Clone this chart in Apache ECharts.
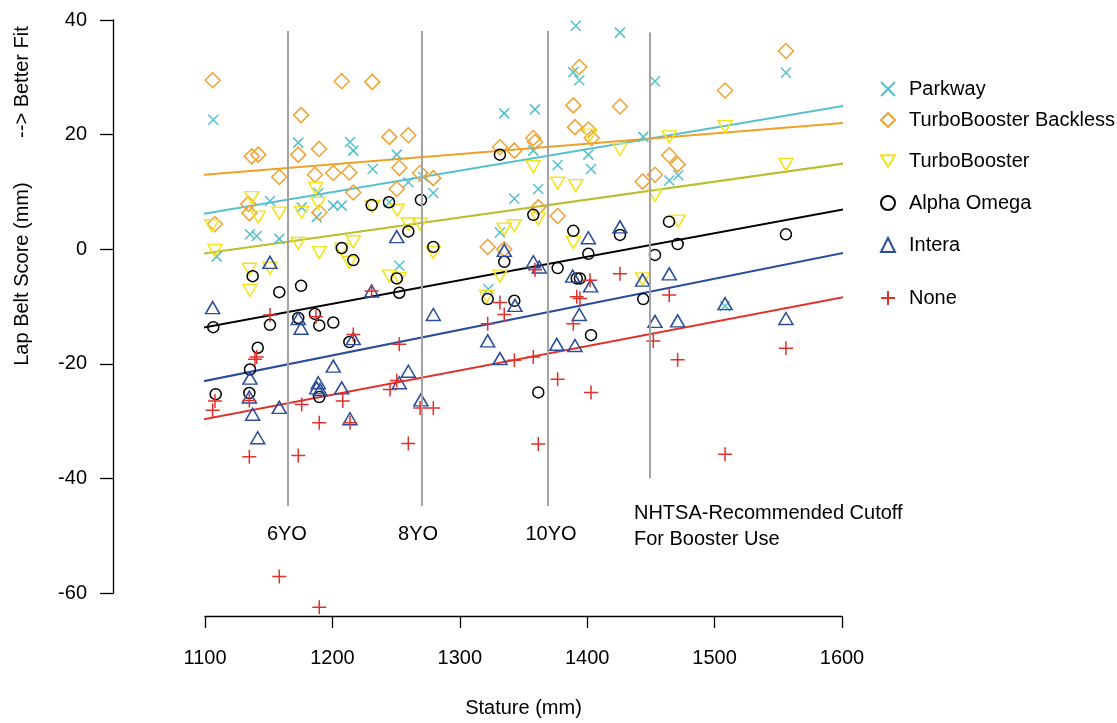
<!DOCTYPE html>
<html>
<head>
<meta charset="utf-8">
<title>Lap Belt Score vs Stature</title>
<script src="https://cdn.jsdelivr.net/npm/echarts@6/dist/echarts.min.js"></script>
<style>
    html, body { margin: 0; padding: 0; background: #fff; }
    #main { width: 1117px; height: 723px; }
</style>
</head>
<body>
<div id="main"></div>
<script type="text/javascript">
    // stature (mm), lap belt score (mm) per booster
    var parkway = [[1106.5,22.6],[1173.2,18.6],[1213.8,18.7],[1216.4,17.2],[1250.5,16.5],[1231.6,14.0],[1259.6,11.7],
        [1271.4,12.6],[1151.0,8.4],[1175.9,7.3],[1188.9,9.8],[1200.7,7.6],[1207.3,7.6],[1187.7,5.6],[1135.3,2.6],
        [1140.6,2.3],[1158.3,1.8],[1109.2,-1.3],[1244.7,8.2],[1252.5,-2.9],[1334.9,23.7],[1359.0,24.4],[1391.0,39.0],
        [1425.7,37.8],[1389.1,30.9],[1393.8,29.5],[1357.7,17.2],[1376.8,14.7],[1400.9,16.5],[1403.0,14.0],[1361.6,10.5],
        [1342.8,8.8],[1279.2,9.8],[1444.0,19.6],[1453.2,29.3],[1331.5,2.9],[1322.4,-7.0],[1556.0,30.8],[1464.4,12.0],
        [1471.5,12.9],[1508.2,-9.9]];
    var backless = [[1106.0,29.5],[1207.3,29.3],[1231.3,29.2],[1175.4,23.4],[1136.7,16.2],[1141.8,16.5],[1173.2,16.5],
        [1189.5,17.5],[1244.7,19.6],[1259.6,19.9],[1158.3,12.6],[1186.3,13.0],[1200.7,13.3],[1213.3,13.4],[1252.5,14.2],
        [1268.8,13.3],[1216.4,9.9],[1250.5,10.5],[1134.0,7.9],[1134.8,6.3],[1189.8,6.4],[1107.8,4.4],[1393.8,31.8],
        [1389.1,25.1],[1425.7,24.9],[1390.4,21.3],[1400.9,20.9],[1403.5,19.4],[1331.5,17.8],[1342.8,17.2],[1357.7,19.4],
        [1359.0,18.7],[1279.2,12.4],[1443.5,11.8],[1453.2,13.0],[1361.6,7.3],[1376.8,5.8],[1321.9,0.4],[1334.9,0.0],
        [1556.0,34.6],[1508.2,27.7],[1464.4,16.4],[1471.0,14.8]];
    var turbo = [[1136.7,9.0],[1186.9,10.6],[1188.9,8.0],[1158.3,6.3],[1175.9,6.4],[1141.8,5.6],[1231.6,7.4],
        [1250.9,6.8],[1259.6,4.4],[1268.8,4.4],[1105.3,4.1],[1107.8,-0.2],[1173.2,1.0],[1189.7,-0.6],[1207.3,0.0],
        [1216.4,1.3],[1213.3,-2.3],[1134.8,-3.5],[1151.0,-3.3],[1135.3,-7.2],[1244.7,-4.7],[1252.5,-5.1],[1357.7,14.4],
        [1376.8,11.5],[1391.0,11.1],[1425.7,17.4],[1402.2,19.9],[1453.2,9.4],[1279.2,-0.6],[1334.9,3.5],[1342.8,4.1],
        [1361.6,5.3],[1389.1,1.2],[1331.5,-4.7],[1321.1,-8.2],[1443.5,-5.2],[1464.4,19.6],[1508.2,21.4],[1556.0,14.8],
        [1471.5,4.9]];
    var alpha = [[1230.8,7.7],[1244.4,8.2],[1269.5,8.6],[1259.6,3.1],[1207.3,0.2],[1216.4,-1.9],[1137.4,-4.7],
        [1250.5,-5.1],[1158.3,-7.5],[1175.4,-6.4],[1252.5,-7.6],[1106.5,-13.6],[1151.0,-13.2],[1186.3,-11.3],
        [1173.2,-12.0],[1189.7,-13.3],[1200.7,-12.8],[1141.4,-17.2],[1213.3,-16.2],[1135.3,-21.0],[1108.4,-25.3],
        [1134.8,-25.1],[1189.7,-25.8],[1331.5,16.5],[1357.7,6.0],[1279.2,0.4],[1334.9,-2.2],[1389.1,3.2],[1425.7,2.5],
        [1400.9,-0.8],[1376.8,-3.3],[1391.8,-5.1],[1394.3,-5.1],[1453.2,-1.0],[1321.9,-8.7],[1342.8,-9.0],[1444.0,-8.7],
        [1403.0,-15.0],[1361.6,-25.0],[1464.2,4.8],[1471.0,0.9],[1556.0,2.6]];
    var intera = [[1151.0,-2.3],[1106.0,-10.2],[1250.5,2.2],[1173.2,-12.1],[1175.4,-13.8],[1230.8,-7.3],[1216.4,-15.6],
        [1135.3,-22.5],[1134.8,-25.8],[1137.4,-28.8],[1141.4,-32.9],[1158.3,-27.6],[1200.7,-20.4],[1188.9,-23.3],
        [1187.7,-24.2],[1190.3,-24.5],[1207.3,-24.2],[1213.8,-29.6],[1259.6,-21.3],[1252.5,-23.3],[1269.5,-26.3],
        [1400.9,2.0],[1425.7,3.9],[1334.9,-0.2],[1357.7,-2.2],[1362.4,-3.1],[1388.6,-4.7],[1402.7,-6.4],[1343.3,-9.8],
        [1279.2,-11.4],[1393.8,-11.4],[1321.9,-16.0],[1376.1,-16.6],[1390.4,-16.8],[1453.2,-12.6],[1443.5,-5.4],
        [1331.5,-19.1],[1464.4,-4.3],[1508.2,-9.5],[1471.0,-12.5],[1556.0,-12.1]];
    var none = [[1151.0,-11.5],[1187.1,-11.8],[1230.8,-7.3],[1216.4,-14.9],[1252.5,-16.6],[1140.6,-18.8],[1139.2,-19.2],
        [1107.8,-26.5],[1106.0,-28.1],[1134.8,-26.4],[1175.9,-27.1],[1208.1,-26.5],[1189.7,-30.3],[1213.8,-30.3],
        [1245.2,-24.5],[1250.5,-22.9],[1268.8,-27.7],[1134.8,-36.2],[1173.2,-36.0],[1259.6,-33.9],[1359.0,-3.6],
        [1425.7,-4.3],[1402.2,-5.4],[1391.8,-8.3],[1394.3,-8.6],[1331.5,-9.3],[1334.9,-11.4],[1321.9,-13.0],
        [1389.1,-13.0],[1342.8,-19.4],[1357.7,-18.8],[1376.8,-22.7],[1403.0,-25.0],[1279.2,-27.7],[1361.6,-34.0],
        [1451.9,-16.0],[1464.4,-8.0],[1471.0,-19.3],[1556.0,-17.3],[1508.2,-35.8],[1158.3,-57.1],[1189.7,-62.5]];

    // fitted lines, [start, end]
    var fitX = [1028, 1622];
    var fitParkway = [3.5, 25.8];
    var fitBackless = [11.7, 22.4];
    var fitTurbo = [-3.0, 15.6];
    var fitAlpha = [-16.6, 7.8];
    var fitIntera = [-26.2, 0.3];
    var fitNone = [-32.7, -7.5];

    // age / cutoff reference lines
    var refX = [1165.1, 1270.5, 1369.0, 1449.3];
    var refTop = [38.1, 38.1, 38.1, 37.8];
    var refBottom = [-44.8, -44.8, -44.8, -40];
    var notes = [
        {name: '6YO', value: [1164.3, -49.8], align: 'center'},
        {name: '8YO', value: [1267.2, -49.8], align: 'center'},
        {name: '10YO', value: [1371.6, -49.8], align: 'center'},
        {name: 'NHTSA-Recommended Cutoff', value: [1436.7, -46.2], align: 'left'},
        {name: 'For Booster Use', value: [1436.7, -50.6], align: 'left'}
    ];

    var legendNames = ['Parkway', 'TurboBooster Backless', 'TurboBooster', 'Alpha Omega', 'Intera', 'None'];
    var legendY = [86, 117, 158, 200, 242, 295];

    var FONT = 'Liberation Sans, Arial, Helvetica, sans-serif';
    var FS = 20;
    var SYM_X = 'path://M0,0L10,10M10,0L0,10';
    var SYM_PLUS = 'path://M5,0L5,10M0,5L10,5';
    var SYM_DOWN = 'path://M0,0L12,0L6,10Z';

    var colors = ['#55c0cd', '#f0a232', '#f4e21e', '#000000', '#2b4c9b', '#e2302a'];
    var lineColors = ['#55c0cd', '#f0a026', '#b8be2c', '#000000', '#2b4c9b', '#e2302a'];
    var symbols = [SYM_X, 'diamond', SYM_DOWN, 'circle', 'triangle', SYM_PLUS];
    var sizes = [10, 15, [14, 12], 11, [14, 12], 14];
    var groups = [parkway, backless, turbo, alpha, intera, none];
    var fits = [fitParkway, fitBackless, fitTurbo, fitAlpha, fitIntera, fitNone];

    var series = [];
    var legends = [];

    for (var i = 0; i < groups.length; i++) {
        series.push({
            name: legendNames[i] + ' fit',
            type: 'line',
            data: [[fitX[0], fits[i][0]], [fitX[1], fits[i][1]]],
            symbol: 'none',
            clip: false,
            silent: true,
            z: 2,
            lineStyle: {color: lineColors[i], width: 2}
        });
    }
    for (var i = 0; i < groups.length; i++) {
        series.push({
            name: legendNames[i],
            type: 'scatter',
            data: groups[i],
            symbol: symbols[i],
            symbolSize: sizes[i],
            clip: false,
            silent: true,
            z: 3,
            itemStyle: {color: 'rgba(0,0,0,0)', borderColor: colors[i], borderWidth: 1.5, opacity: 1}
        });
        legends.push({
            data: [{name: legendNames[i], icon: symbols[i]}],
            left: 875,
            top: legendY[i] - 12,
            itemWidth: 14,
            itemHeight: 14,
            selectedMode: false,
            textStyle: {fontFamily: FONT, fontSize: FS, color: '#000', padding: [0, 0, 0, 9]}
        });
    }

    // vertical reference lines
    var refLines = [];
    for (var k = 0; k < refX.length; k++) {
        refLines.push([{coord: [refX[k], refTop[k]]}, {coord: [refX[k], refBottom[k]]}]);
    }
    series.push({
        name: 'refs',
        type: 'scatter',
        data: [],
        silent: true,
        markLine: {
            silent: true,
            symbol: 'none',
            label: {show: false},
            lineStyle: {color: '#a3a3a3', width: 2, type: 'solid'},
            data: refLines
        }
    });
    series.push({
        name: 'notes',
        type: 'scatter',
        symbolSize: 0,
        silent: true,
        itemStyle: {opacity: 1},
        data: notes.map(function (n) {
            return {name: n.name, value: n.value, label: {align: n.align}};
        }),
        label: {
            show: true,
            position: 'inside',
            formatter: '{b}',
            fontFamily: FONT,
            fontSize: FS,
            color: '#000'
        }
    });

    var myChart = echarts.init(document.getElementById('main'));
    var option = {
        animation: false,
        backgroundColor: '#fff',
        textStyle: {fontFamily: FONT},
        legend: legends,
        grid: {left: 205, top: 20, width: 637, height: 575},
        xAxis: {
            type: 'value',
            min: 1100,
            max: 1600,
            interval: 100,
            offset: 23,
            name: 'Stature (mm)',
            nameLocation: 'middle',
            nameGap: 82,
            nameTextStyle: {fontFamily: FONT, fontSize: FS, color: '#000'},
            axisLine: {onZero: false, lineStyle: {color: '#000', width: 1.3}},
            axisTick: {length: 12, lineStyle: {color: '#000', width: 1.3}},
            axisLabel: {
                margin: 32, fontFamily: FONT, fontSize: FS, color: '#000',
                formatter: function (v) { return String(v); }
            },
            splitLine: {show: false}
        },
        yAxis: {
            type: 'value',
            min: -60,
            max: 40,
            interval: 20,
            offset: 92,
            axisLine: {show: true, onZero: false, lineStyle: {color: '#000', width: 1.3}},
            axisTick: {show: true, length: 13, lineStyle: {color: '#000', width: 1.3}},
            axisLabel: {margin: 26, fontFamily: FONT, fontSize: FS, color: '#000'},
            splitLine: {show: false}
        },
        graphic: [{
            type: 'text',
            x: 22,
            y: 196,
            rotation: Math.PI / 2,
            style: {
                text: 'Lap Belt Score (mm)        --> Better Fit',
                fontFamily: FONT,
                fontSize: FS,
                fill: '#000',
                align: 'center',
                verticalAlign: 'middle'
            }
        }],
        series: series
    };
    myChart.setOption(option);
</script>
</body>
</html>
